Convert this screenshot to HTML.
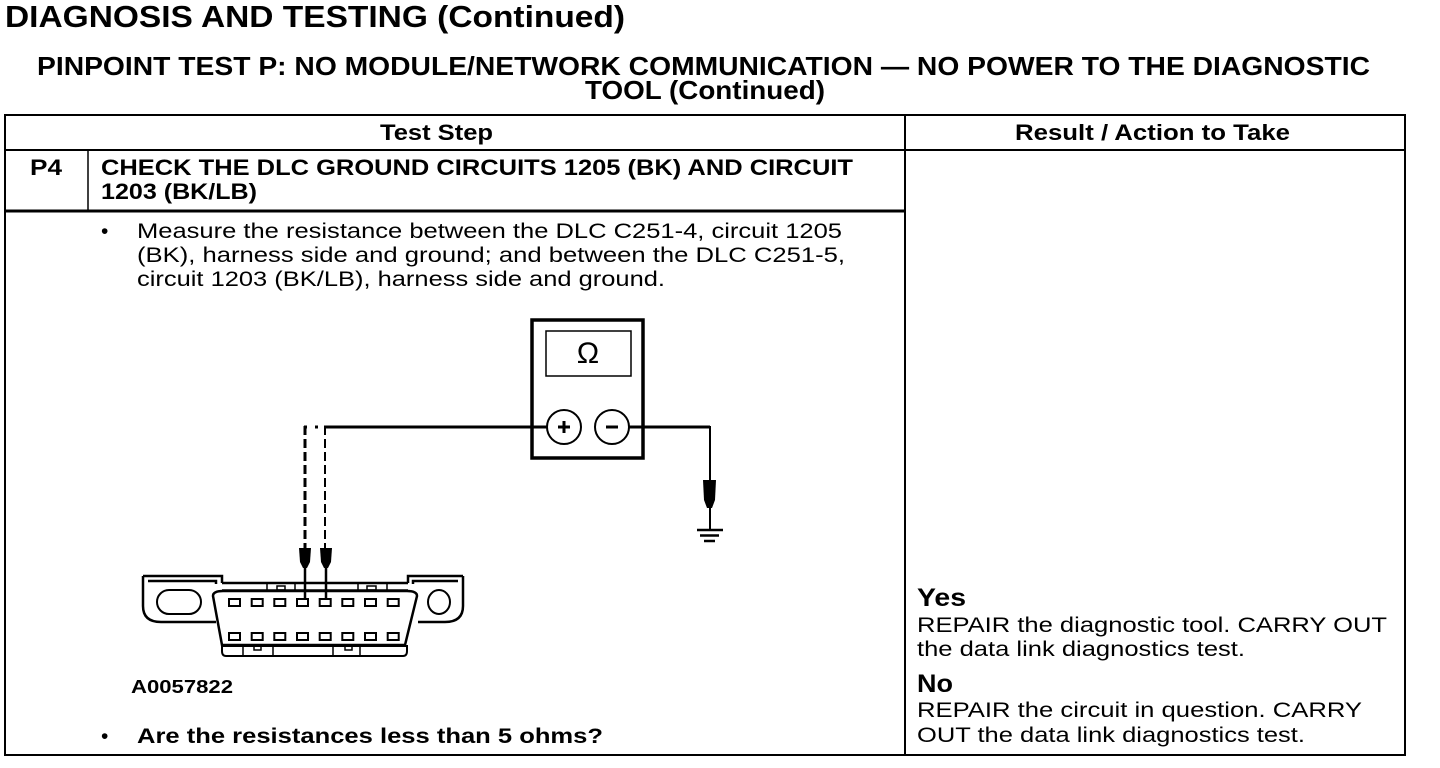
<!DOCTYPE html>
<html><head><meta charset="utf-8"><style>
html,body{margin:0;padding:0;background:#fff;}
svg{display:block;}
text{font-family:"Liberation Sans",sans-serif;fill:#000;}
.b{font-weight:bold;}
</style></head><body>
<svg width="1440" height="768" viewBox="0 0 1440 768" xmlns="http://www.w3.org/2000/svg">
<text x="5" y="27" font-size="31" class="b" textLength="620" lengthAdjust="spacingAndGlyphs">DIAGNOSIS AND TESTING (Continued)</text>
<text x="37" y="75" font-size="26" class="b" textLength="1333" lengthAdjust="spacingAndGlyphs">PINPOINT TEST  P: NO MODULE/NETWORK COMMUNICATION — NO POWER TO THE DIAGNOSTIC</text>
<text x="585" y="99" font-size="26" class="b" textLength="240" lengthAdjust="spacingAndGlyphs">TOOL (Continued)</text>
<text x="380" y="140" font-size="22" class="b" textLength="113" lengthAdjust="spacingAndGlyphs">Test Step</text>
<text x="1015" y="140" font-size="22" class="b" textLength="275" lengthAdjust="spacingAndGlyphs">Result / Action to Take</text>
<text x="30" y="175" font-size="22" class="b" textLength="32" lengthAdjust="spacingAndGlyphs">P4</text>
<text x="101" y="175" font-size="22" class="b" textLength="752" lengthAdjust="spacingAndGlyphs">CHECK THE DLC GROUND CIRCUITS 1205 (BK) AND CIRCUIT</text>
<text x="101" y="199" font-size="22" class="b" textLength="156" lengthAdjust="spacingAndGlyphs">1203 (BK/LB)</text>
<text x="101" y="238" font-size="21">•</text>
<text x="137" y="238" font-size="21" textLength="705" lengthAdjust="spacingAndGlyphs">Measure the resistance between the DLC C251-4, circuit 1205</text>
<text x="137" y="262" font-size="21" textLength="708" lengthAdjust="spacingAndGlyphs">(BK), harness side and ground; and between the DLC C251-5,</text>
<text x="137" y="286" font-size="21" textLength="528" lengthAdjust="spacingAndGlyphs">circuit 1203 (BK/LB), harness side and ground.</text>
<text x="131" y="693" font-size="18" class="b" textLength="102" lengthAdjust="spacingAndGlyphs">A0057822</text>
<text x="101" y="743" font-size="21">•</text>
<text x="137" y="743" font-size="21" class="b" textLength="466" lengthAdjust="spacingAndGlyphs">Are the resistances less than 5 ohms?</text>
<text x="917" y="606" font-size="25" class="b" textLength="49" lengthAdjust="spacingAndGlyphs">Yes</text>
<text x="917" y="632" font-size="21" textLength="470" lengthAdjust="spacingAndGlyphs">REPAIR the diagnostic tool. CARRY OUT</text>
<text x="917" y="656" font-size="21" textLength="328" lengthAdjust="spacingAndGlyphs">the data link diagnostics test.</text>
<text x="917" y="692" font-size="25" class="b" textLength="36" lengthAdjust="spacingAndGlyphs">No</text>
<text x="917" y="717" font-size="21" textLength="445" lengthAdjust="spacingAndGlyphs">REPAIR the circuit in question. CARRY</text>
<text x="917" y="742" font-size="21" textLength="388" lengthAdjust="spacingAndGlyphs">OUT the data link diagnostics test.</text>
<!-- table -->
<g fill="none" stroke="#000">
<rect x="5" y="115" width="1400" height="640" stroke-width="2"/>
<line x1="5" y1="150" x2="1405" y2="150" stroke-width="2"/>
<line x1="905" y1="115" x2="905" y2="755" stroke-width="2"/>
<line x1="88" y1="150" x2="88" y2="211" stroke-width="1.5"/>
<line x1="5" y1="211" x2="905" y2="211" stroke-width="3"/>
</g>
<!-- meter -->
<g stroke="#000" fill="none">
<rect x="532" y="320" width="111" height="138" stroke-width="3.5"/>
<rect x="546" y="331" width="85" height="45" stroke-width="1.5"/>
<line x1="324" y1="427" x2="547" y2="427" stroke-width="3"/>
<line x1="304" y1="427" x2="320" y2="427" stroke-width="3" stroke-dasharray="3,8"/>
<line x1="629" y1="427" x2="710" y2="427" stroke-width="3"/>
<circle cx="564" cy="427" r="17" stroke-width="2" fill="#fff"/>
<circle cx="612" cy="427" r="17" stroke-width="2" fill="#fff"/>
<line x1="710" y1="426" x2="710" y2="530" stroke-width="2"/>
<line x1="305" y1="426" x2="305" y2="548" stroke-width="3" stroke-dasharray="9,4"/>
<line x1="325" y1="426" x2="325" y2="548" stroke-width="2" stroke-dasharray="9,4"/>
<line x1="697" y1="530" x2="723" y2="530" stroke-width="2.5"/>
<line x1="700" y1="535.5" x2="719" y2="535.5" stroke-width="2.5"/>
<line x1="704" y1="541" x2="715" y2="541" stroke-width="2.5"/>
</g>
<text x="588" y="363" font-size="30" text-anchor="middle" font-family="Liberation Serif">Ω</text>
<rect x="558" y="425.5" width="12" height="3" fill="#000"/>
<rect x="562.5" y="421" width="3" height="12" fill="#000"/>
<rect x="606" y="425.5" width="12" height="3" fill="#000"/>
<!-- probes -->
<g fill="#000">
<path d="M703,480 h13 l-1,20 l-3,8 h-5 l-3,-8 z"/>
<path d="M299,548 h12 l-1,14 l-3,6 h-4 l-3,-6 z"/>
<path d="M320,548 h12 l-1,14 l-3,6 h-4 l-3,-6 z"/>
</g>
<g stroke="#000" stroke-width="2.5">
<line x1="305" y1="566" x2="305" y2="599"/>
<line x1="326" y1="566" x2="326" y2="599"/>
</g>
<!-- connector -->
<g stroke="#000" fill="none" stroke-width="2.5">
<path d="M143,576 h79 v7"/>
<path d="M143,576 v30 q0,16 18,16 h55"/>
<path d="M148,581 h68 v3"/>
<path d="M463,576 h-55 v7"/>
<path d="M463,576 v30 q0,16 -18,16 h-27"/>
<path d="M458,581 h-45 v3"/>
<path d="M222,583 h186"/>
<path d="M222,590 h186" stroke-width="1.5"/>
<path d="M213,596 q0,-5 10,-5 h184 q10,0 10,5 l-12,49 h-183 z"/>
<path d="M222,646 h185 v5 q0,5 -4,5 h-177 q-4,0 -4,-5 z" stroke-width="2"/>
<rect x="157" y="590" width="44" height="24" rx="12" stroke-width="2"/>
<ellipse cx="439" cy="602" rx="11" ry="12" stroke-width="2"/>
</g>
<g stroke="#000" stroke-width="1.5" fill="none">
<line x1="267" y1="583" x2="267" y2="590"/><line x1="295" y1="583" x2="295" y2="590"/>
<line x1="358" y1="583" x2="358" y2="590"/><line x1="387" y1="583" x2="387" y2="590"/>
<rect x="277" y="586" width="8" height="4"/><rect x="367" y="586" width="9" height="4"/>
<line x1="243" y1="646" x2="243" y2="656"/><line x1="273" y1="646" x2="273" y2="656"/>
<line x1="333" y1="646" x2="333" y2="656"/><line x1="360" y1="646" x2="360" y2="656"/>
<rect x="254" y="646" width="7" height="4"/><rect x="345" y="646" width="7" height="4"/>
</g>
<g fill="none" stroke="#000" stroke-width="2">
<rect x="229" y="599" width="11" height="7"/><rect x="251.7" y="599" width="11" height="7"/><rect x="274.3" y="599" width="11" height="7"/><rect x="297" y="599" width="11" height="7"/><rect x="319.7" y="599" width="11" height="7"/><rect x="342.3" y="599" width="11" height="7"/><rect x="365" y="599" width="11" height="7"/><rect x="387.7" y="599" width="11" height="7"/>
<rect x="229" y="633" width="11" height="7"/><rect x="251.7" y="633" width="11" height="7"/><rect x="274.3" y="633" width="11" height="7"/><rect x="297" y="633" width="11" height="7"/><rect x="319.7" y="633" width="11" height="7"/><rect x="342.3" y="633" width="11" height="7"/><rect x="365" y="633" width="11" height="7"/><rect x="387.7" y="633" width="11" height="7"/>
</g>
</svg>
</body></html>
